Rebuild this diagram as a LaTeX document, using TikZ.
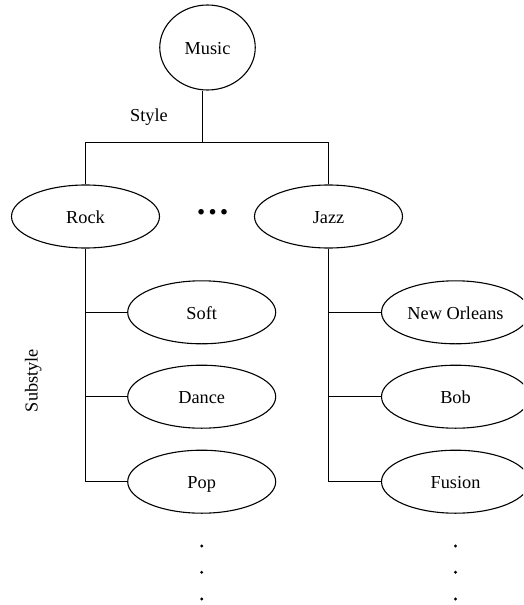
\documentclass[tikz,border=0pt]{standalone}
\usepackage{fontspec}
\setmainfont{Liberation Serif}
\usetikzlibrary{shapes.geometric}
\begin{document}
\begin{tikzpicture}[x=1pt,y=-1pt,
  every node/.style={font=\fontsize{18.3}{22}\selectfont},
  link/.style={draw=black,line width=1.1pt},
  bubble/.style={ellipse,draw=black,line width=1.1pt,inner sep=0pt,text height=17.5pt,text depth=3.5pt},
  oval/.style={bubble,minimum width=148pt,minimum height=63pt},
  dotmark/.style={circle,fill=black,inner sep=0pt,minimum size=3.2pt}]
\useasboundingbox (0,0) rectangle (523,605);
\begin{scope}
\clip (0,0) rectangle (523,605);
% root
\node[bubble,minimum width=95.5pt,minimum height=85pt] (music) at (207.5,47.5) {Music};
% styles
\node[oval] (rock) at (85.5,216.5) {Rock};
\node[oval] (jazz) at (328.5,216.5) {Jazz};
\node[font=\fontsize{34}{34}\selectfont\bfseries,inner sep=0pt,anchor=base] (more) at (212.5,214.2) {…};
% substyles of rock
\node[oval] (soft) at (201.7,312.3) {Soft};
\node[oval] (dance) at (201.7,396.7) {Dance};
\node[oval] (pop) at (201.7,481.7) {Pop};
% substyles of jazz
\node[oval] (neworleans) at (455.5,312.3) {New Orleans};
\node[oval] (bob) at (455.5,396.7) {Bob};
\node[oval] (fusion) at (455.5,481.7) {Fusion};
% labels
\node (style) at (149,117) {Style};
\node[rotate=90] (substyle) at (33.3,380.5) {Substyle};
% connectors
\coordinate (fork) at (202.5,142.5);
\draw[link] (fork |- music.south) -- (fork);
\draw[link] (fork) -| (rock.north);
\draw[link] (fork) -| (jazz.north);
\draw[link] (rock.south) |- (pop.west);
\draw[link] (soft.west) -- (soft.west -| rock.south);
\draw[link] (dance.west) -- (dance.west -| rock.south);
\draw[link] (jazz.south) |- (fusion.west);
\draw[link] (neworleans.west) -- (neworleans.west -| jazz.south);
\draw[link] (bob.west) -- (bob.west -| jazz.south);
% continuation dots
\node[dotmark] (ld1) at (201.7,546) {};
\node[dotmark] (ld2) at (201.7,572.3) {};
\node[dotmark] (ld3) at (201.7,599) {};
\node[dotmark] (rd1) at (455.5,546) {};
\node[dotmark] (rd2) at (455.5,572.3) {};
\node[dotmark] (rd3) at (455.5,599) {};
\end{scope}
\end{tikzpicture}
\end{document}
